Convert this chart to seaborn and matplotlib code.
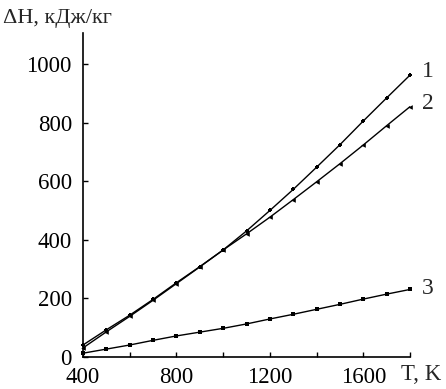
import numpy as np
import pandas as pd
import seaborn as sns
import matplotlib
matplotlib.use("Agg")
import matplotlib.pyplot as plt

# Data
T = [400, 500, 600, 700, 800, 900, 1000, 1100, 1200, 1300, 1400, 1500, 1600, 1700, 1800]
H1 = [40, 92, 142, 196, 253, 308, 365, 430, 500, 572, 648, 725, 806, 885, 963]
H2 = [30, 85, 138, 193, 250, 307, 365, 420, 477, 537, 598, 660, 724, 790, 855]
H3 = [12, 26, 40, 56, 71, 84, 97, 112, 129, 145, 162, 179, 197, 214, 230]
curve_labels = ["1", "2", "3"]
x_ticks = [400, 800, 1200, 1600]
y_ticks = [0, 200, 400, 600, 800, 1000]

sns.set_style("ticks")
plt.rcParams['font.family'] = ['Liberation Serif', 'DejaVu Serif']

df = pd.DataFrame({
    "T": T * 3,
    "H": H1 + H2 + H3,
    "curve": sum([[c] * len(T) for c in curve_labels], []),
})

fig = plt.figure(figsize=(4.46, 3.89), dpi=100)
ax = fig.add_axes([83 / 446, 1 - 356.7 / 389, (410 - 83) / 446, (356.7 - 33) / 389])

sns.lineplot(data=df, x="T", y="H", hue="curve", palette=["black"] * 3,
             legend=False, ax=ax, linewidth=1.0)
markers = {"1": "P", "2": "<", "3": "s"}
for c, m in markers.items():
    sub = df[df["curve"] == c]
    sns.scatterplot(data=sub, x="T", y="H", marker=m, color="black", s=11,
                    linewidth=0, ax=ax, legend=False, clip_on=False)

ax.set_xlim(400, 1800)
ax.set_ylim(0, 1107)
ax.set_xticks(x_ticks)
ax.set_xticks(np.arange(400, 1801, 200), minor=True)
ax.set_yticks(y_ticks)
ax.set_xlabel("")
ax.set_ylabel("")
ax.tick_params(axis="both", which="both", direction="in", length=3.5, width=1.0,
               labelsize=16.5, colors="black")
ax.tick_params(axis="x", pad=7.5)
ax.tick_params(axis="y", pad=8)
for s in ["top", "right"]:
    ax.spines[s].set_visible(False)
for s in ["left", "bottom"]:
    ax.spines[s].set_linewidth(1.2)
    ax.spines[s].set_color("black")

# curve labels
ends = [H1[-1], H2[-1], H3[-1]]
offs = [12, 12, 4]
for lab, e, o in zip(curve_labels, ends, offs):
    ax.text(1875, e + o, lab, fontsize=17, ha="center", va="center", clip_on=False)

fig.text(3 / 446, 1 - 18 / 389, "ΔH, кДж/кг", fontsize=16, ha="left", va="center")
fig.text(401 / 446, 1 - 375 / 389, "T, K", fontsize=16.5, ha="left", va="center")

fig.savefig("out.png", dpi=100)
